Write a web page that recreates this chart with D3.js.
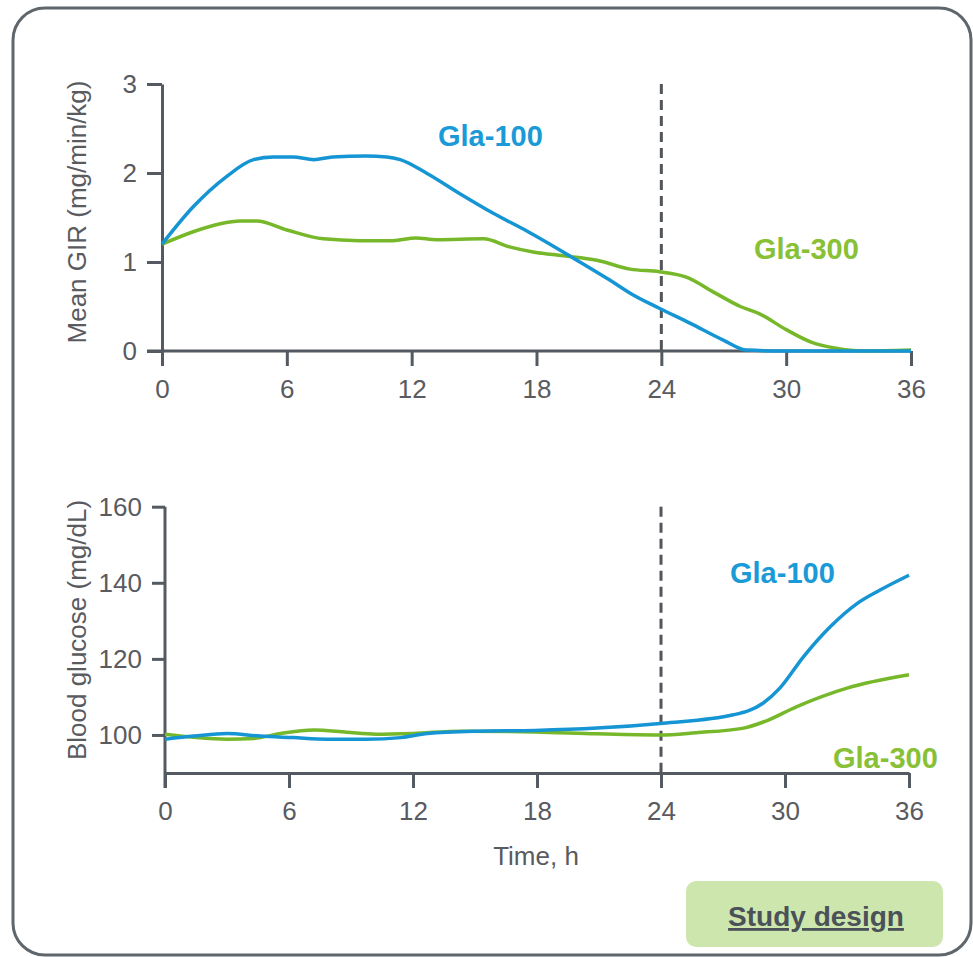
<!DOCTYPE html>
<html>
<head>
<meta charset="utf-8">
<script src="https://cdn.jsdelivr.net/npm/d3@7"></script>
<style>
  body { margin: 0; background: #fff; }
  text { font-family: "Liberation Sans", Arial, sans-serif; }
</style>
</head>
<body>
<div id="chart"></div>
<script>
// hours
const hourTicks = [0, 6, 12, 18, 24, 30, 36];

// top panel: mean glucose infusion rate (mg/min/kg)
const girTicks = [0, 1, 2, 3];
const girGla100 = [
  [0, 1.20], [1.5, 1.62], [3.1, 1.96], [4.4, 2.15], [5.35, 2.18], [6.3, 2.18],
  [7.3, 2.15], [8.2, 2.18], [9.8, 2.19], [10.8, 2.18], [11.45, 2.15], [12.7, 2.00],
  [14.3, 1.77], [15.9, 1.55], [17.6, 1.34], [19.8, 1.04], [21.5, 0.80], [22.5, 0.65],
  [23.9, 0.48], [25.4, 0.31], [27.0, 0.12], [28.1, 0.01], [30, 0], [33, 0], [36, 0]
];
const girGla300 = [
  [0, 1.20], [1.5, 1.34], [2.8, 1.43], [3.75, 1.46], [4.55, 1.46], [6.0, 1.36],
  [7.75, 1.26], [9.5, 1.24], [11.1, 1.24], [12.2, 1.27], [13.2, 1.25], [15.45, 1.26],
  [16.7, 1.17], [17.9, 1.11], [19.3, 1.07], [20.9, 1.02], [22.5, 0.92], [23.9, 0.89],
  [25.2, 0.83], [26.6, 0.65], [27.8, 0.50], [28.7, 0.42], [30.0, 0.24], [31.2, 0.10],
  [32.4, 0.03], [33.7, 0.00], [36, 0.01]
];

// bottom panel: blood glucose (mg/dL)
const bgTicks = [100, 120, 140, 160];
const bgGla100 = [
  [0, 98.9], [1.4, 99.7], [3.0, 100.4], [4.6, 99.7], [6.2, 99.3], [7.8, 98.9],
  [9.75, 98.9], [11.4, 99.3], [12.7, 100.4], [15.1, 101.0], [17.9, 101.2], [20.9, 101.8],
  [24.1, 103.1], [27.5, 105.3], [28.95, 108.4], [29.75, 112.3], [30.9, 120.6],
  [32.2, 128.5], [33.5, 134.6], [34.6, 138.1], [36, 142.0]
];
const bgGla300 = [
  [0, 100.2], [1.4, 99.4], [3.0, 98.9], [4.3, 99.1], [5.6, 100.4], [7.2, 101.3],
  [8.8, 100.7], [10.2, 100.2], [12.0, 100.4], [14.3, 101.0], [17.9, 100.8], [20.9, 100.3],
  [23.95, 100.0], [25.7, 100.6], [28.0, 101.8], [29.0, 103.5], [30.55, 107.4],
  [33.0, 112.3], [36, 115.8]
];

const blue = "#1595d3", green = "#76b82a";
const axisColor = "#535a61", labelColor = "#595b60";

const svg = d3.select("#chart").append("svg")
  .attr("width", 973)
  .attr("height", 957);

// outer frame
svg.append("rect")
  .attr("x", 13).attr("y", 8)
  .attr("width", 958).attr("height", 947)
  .attr("rx", 32)
  .attr("fill", "#fff")
  .attr("stroke", "#5f666c")
  .attr("stroke-width", 3);

function panel(opts) {
  const x = d3.scaleLinear().domain([0, 36]).range(opts.xRange);
  const y = d3.scaleLinear().domain(opts.yDomain).range(opts.yRange);
  const g = svg.append("g");

  const xAxis = g.append("g")
    .attr("transform", `translate(0,${opts.yRange[0]})`)
    .call(d3.axisBottom(x).tickValues(hourTicks).tickSize(15).tickPadding(14).tickSizeOuter(0));
  const yAxis = g.append("g")
    .attr("transform", `translate(${opts.xRange[0]},0)`)
    .call(d3.axisLeft(y).tickValues(opts.yTicks).tickFormat(d3.format("d"))
      .tickSize(opts.yTickLen).tickPadding(10).tickSizeOuter(0));

  [xAxis, yAxis].forEach(a => {
    a.select(".domain").attr("stroke", axisColor).attr("stroke-width", 3);
    a.selectAll(".tick line").attr("stroke", axisColor).attr("stroke-width", 3);
    a.selectAll(".tick text")
      .attr("fill", labelColor)
      .style("font-size", "26px")
      .style("font-family", "'Liberation Sans', Arial, sans-serif");
  });
  if (opts.extendX) {
    // x-axis line runs back under the y tick at zero
    xAxis.select(".domain").attr("d", `M${opts.xRange[0] - opts.yTickLen},0H${opts.xRange[1]}`);
  } else {
    yAxis.select(".domain").attr("d", `M0,${opts.yRange[1]}V${opts.yRange[0] + 15}`);
  }

  // 24 h marker
  g.append("line")
    .attr("x1", x(24)).attr("x2", x(24))
    .attr("y1", opts.yRange[1]).attr("y2", opts.yRange[0])
    .attr("stroke", "#50565c")
    .attr("stroke-width", 3)
    .attr("stroke-dasharray", "10,6");

  const line = d3.line()
    .x(d => x(d[0]))
    .y(d => y(d[1]))
    .curve(d3.curveMonotoneX);

  g.append("path").datum(opts.s300)
    .attr("d", line).attr("fill", "none")
    .attr("stroke", green).attr("stroke-width", 3.5);
  g.append("path").datum(opts.s100)
    .attr("d", line).attr("fill", "none")
    .attr("stroke", blue).attr("stroke-width", 3.5);

  g.append("text")
    .attr("transform", `translate(86,${opts.titleY}) rotate(-90)`)
    .attr("text-anchor", "middle")
    .attr("fill", labelColor)
    .style("font-size", "26px")
    .text(opts.title);

  opts.labels.forEach(l => {
    g.append("text")
      .attr("x", l.x).attr("y", l.y)
      .attr("fill", l.color)
      .style("font-size", "29px")
      .style("font-weight", "bold")
      .text(l.text);
  });
  return x;
}

panel({
  xRange: [162, 911], yRange: [351, 84], yDomain: [0, 3],
  yTicks: girTicks, yTickLen: 15, extendX: true,
  s100: girGla100, s300: girGla300,
  title: "Mean GIR (mg/min/kg)", titleY: 212,
  labels: [
    { text: "Gla-100", x: 438, y: 146, color: "#1a9ad6" },
    { text: "Gla-300", x: 754, y: 259, color: "#88c036" }
  ]
});

panel({
  xRange: [165, 909], yRange: [773, 506.7], yDomain: [90, 160],
  yTicks: bgTicks, yTickLen: 13, extendX: false,
  s100: bgGla100, s300: bgGla300,
  title: "Blood glucose (mg/dL)", titleY: 630,
  labels: [
    { text: "Gla-100", x: 730, y: 583, color: "#1a9ad6" },
    { text: "Gla-300", x: 833, y: 768, color: "#88c036" }
  ]
});

svg.append("text")
  .attr("x", 536).attr("y", 865)
  .attr("text-anchor", "middle")
  .attr("fill", labelColor)
  .style("font-size", "26px")
  .text("Time, h");

// study design button
const btn = svg.append("g");
btn.append("rect")
  .attr("x", 686).attr("y", 881)
  .attr("width", 257).attr("height", 66)
  .attr("rx", 10)
  .attr("fill", "#cde6ad");
btn.append("text")
  .attr("x", 816).attr("y", 926)
  .attr("text-anchor", "middle")
  .attr("fill", "#4a5158")
  .style("font-size", "28px")
  .style("font-weight", "bold")
  .style("text-decoration", "underline")
  .text("Study design");
</script>
</body>
</html>
